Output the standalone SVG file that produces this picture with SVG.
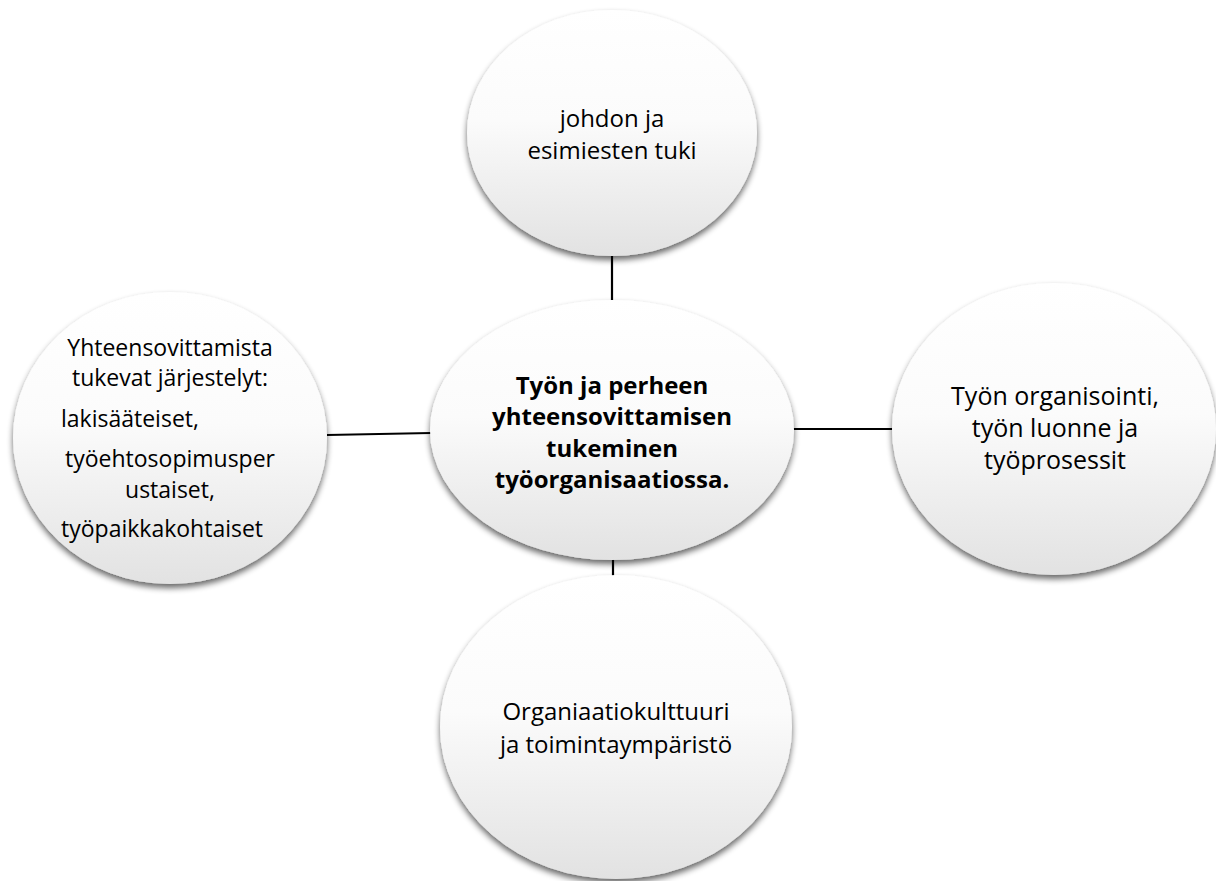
<svg xmlns="http://www.w3.org/2000/svg" width="1216" height="881" viewBox="0 0 1216 881">
<defs>
<linearGradient id="g" x1="0" y1="0" x2="0" y2="1">
<stop offset="0" stop-color="#ffffff"/>
<stop offset="0.45" stop-color="#fbfbfb"/>
<stop offset="1" stop-color="#e2e2e2"/>
</linearGradient>
<filter id="sh" x="-10%" y="-10%" width="120%" height="125%">
<feGaussianBlur in="SourceAlpha" stdDeviation="3"/>
<feOffset dx="0" dy="4" result="b"/>
<feComponentTransfer><feFuncA type="linear" slope="0.6"/></feComponentTransfer>
<feMerge><feMergeNode/><feMergeNode in="SourceGraphic"/></feMerge>
</filter>
</defs>
<style>
.n{fill:url(#g);filter:url(#sh)}
.t{font-family:"Open Sans","Noto Sans",sans-serif;font-size:24px;fill:#000;text-anchor:middle}
.b{font-weight:bold;font-size:24px}
.s{font-size:23px}
.r{font-size:25px}
.l{text-anchor:start}
.c{stroke:#000;stroke-width:2.2;fill:none}
</style>
<rect width="1216" height="881" fill="#fff"/>
<g id="connectors">
<line class="c" x1="612" y1="255" x2="612" y2="302"/>
<line class="c" x1="327" y1="435" x2="431" y2="433"/>
<line class="c" x1="793" y1="429" x2="893" y2="429"/>
<line class="c" x1="613" y1="558" x2="613" y2="577"/>
</g>
<g id="n-top">
<ellipse class="n" cx="612" cy="133" rx="145" ry="123"/>
<text class="t" x="612" y="127">johdon ja</text>
<text class="t" x="612" y="159">esimiesten tuki</text>
</g>
<g id="n-left">
<ellipse class="n" cx="170" cy="438" rx="157" ry="146"/>
<text class="t s" x="170" y="356">Yhteensovittamista</text>
<text class="t s" x="170" y="386">tukevat järjestelyt:</text>
<text class="t s l" x="61" y="427">lakisääteiset,</text>
<text class="t s" x="170" y="467">työehtosopimusper</text>
<text class="t s" x="170" y="498">ustaiset,</text>
<text class="t s l" x="61" y="537">työpaikkakohtaiset</text>
</g>
<g id="n-right">
<ellipse class="n" cx="1054" cy="429" rx="162" ry="146"/>
<text class="t r" x="1055" y="405">Työn organisointi,</text>
<text class="t r" x="1055" y="437">työn luonne ja</text>
<text class="t r" x="1055" y="469">työprosessit</text>
</g>
<g id="n-bottom">
<ellipse class="n" cx="616" cy="727" rx="176" ry="152"/>
<text class="t" x="616" y="720">Organiaatiokulttuuri</text>
<text class="t" x="616" y="753">ja toimintaympäristö</text>
</g>
<g id="n-center">
<ellipse class="n" cx="612" cy="430" rx="182" ry="130"/>
<text class="t b" x="612" y="394">Työn ja perheen</text>
<text class="t b" x="612" y="425">yhteensovittamisen</text>
<text class="t b" x="612" y="457">tukeminen</text>
<text class="t b" x="612" y="488">työorganisaatiossa.</text>
</g>
</svg>
